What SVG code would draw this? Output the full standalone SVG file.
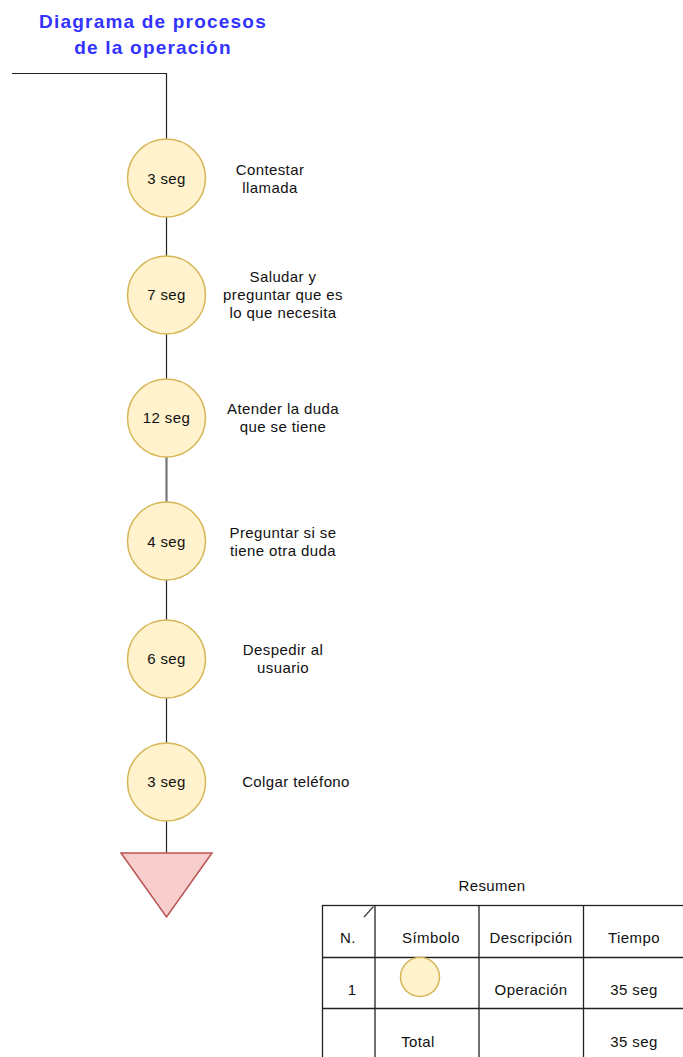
<svg xmlns="http://www.w3.org/2000/svg" width="683" height="1057" viewBox="0 0 683 1057">
<style>
.t{font-family:"Liberation Sans",Arial,sans-serif;font-size:15px;letter-spacing:0.4px;fill:#111;text-anchor:middle}
.title{font-family:"Liberation Sans",Arial,sans-serif;font-size:19px;font-weight:bold;letter-spacing:1.2px;fill:#3333ff;text-anchor:middle}
.op{fill:#fff2cc;stroke:#d6b656;stroke-width:1.5}
.c{stroke:#222;stroke-width:1.2;fill:none}
.tb{stroke:#222;stroke-width:1.3;fill:none}
</style>
<rect width="683" height="1057" fill="#fff"/>
<g id="title">
<text class="title" x="153" y="28">Diagrama de procesos</text>
<text class="title" x="153" y="54">de la operación</text>
</g>
<g id="connectors">
<polyline class="c" points="12,73.5 166.5,73.5 166.5,139"/>
<line class="c" x1="166.5" y1="217" x2="166.5" y2="256"/>
<line class="c" x1="166.5" y1="334" x2="166.5" y2="379"/>
<line x1="166.5" y1="457" x2="166.5" y2="502" stroke="#777" stroke-width="2.2"/>
<line class="c" x1="166.5" y1="580" x2="166.5" y2="620"/>
<line class="c" x1="166.5" y1="698" x2="166.5" y2="743"/>
<line class="c" x1="166.5" y1="821" x2="166.5" y2="853"/>
</g>
<g id="n1"><circle class="op" cx="166.5" cy="178" r="39"/><text class="t" x="166.5" y="184">3 seg</text>
<text class="t" x="270" y="175">Contestar</text><text class="t" x="270" y="193">llamada</text></g>
<g id="n2"><circle class="op" cx="166.5" cy="295" r="39"/><text class="t" x="166.5" y="300">7 seg</text>
<text class="t" x="283" y="282">Saludar y</text><text class="t" x="283" y="300">preguntar que es</text><text class="t" x="283" y="318">lo que necesita</text></g>
<g id="n3"><circle class="op" cx="166.5" cy="418" r="39"/><text class="t" x="166.5" y="423">12 seg</text>
<text class="t" x="283" y="414">Atender la duda</text><text class="t" x="283" y="432">que se tiene</text></g>
<g id="n4"><circle class="op" cx="166.5" cy="541" r="39"/><text class="t" x="166.5" y="547">4 seg</text>
<text class="t" x="283" y="538">Preguntar si se</text><text class="t" x="283" y="556">tiene otra duda</text></g>
<g id="n5"><circle class="op" cx="166.5" cy="659" r="39"/><text class="t" x="166.5" y="664">6 seg</text>
<text class="t" x="283" y="655">Despedir al</text><text class="t" x="283" y="673">usuario</text></g>
<g id="n6"><circle class="op" cx="166.5" cy="782" r="39"/><text class="t" x="166.5" y="787">3 seg</text>
<text class="t" x="296" y="787">Colgar teléfono</text></g>
<g id="end"><polygon points="121,853 212,853 166.5,917" fill="#f8cecc" stroke="#b85450" stroke-width="1.5"/></g>
<g id="summary">
<text class="t" x="492" y="891">Resumen</text>
<rect class="tb" x="322.5" y="905.5" width="370" height="160"/>
<line class="tb" x1="375" y1="905.5" x2="375" y2="1057"/>
<line class="tb" x1="479" y1="905.5" x2="479" y2="1057"/>
<line class="tb" x1="583.5" y1="905.5" x2="583.5" y2="1057"/>
<line class="tb" x1="322.5" y1="957.5" x2="683" y2="957.5"/>
<line class="tb" x1="322.5" y1="1008.5" x2="683" y2="1008.5"/>
<line x1="364" y1="917" x2="373.5" y2="906.5" stroke="#444" stroke-width="1.3"/>
<text class="t" x="348" y="943">N.</text>
<text class="t" x="431" y="943">Símbolo</text>
<text class="t" x="531" y="943">Descripción</text>
<text class="t" x="634" y="943">Tiempo</text>
<text class="t" x="352" y="995">1</text>
<circle class="op" cx="420" cy="977" r="19.5"/>
<text class="t" x="531" y="995">Operación</text>
<text class="t" x="634" y="995">35 seg</text>
<text class="t" x="418" y="1047">Total</text>
<text class="t" x="634" y="1047">35 seg</text>
</g>
</svg>
